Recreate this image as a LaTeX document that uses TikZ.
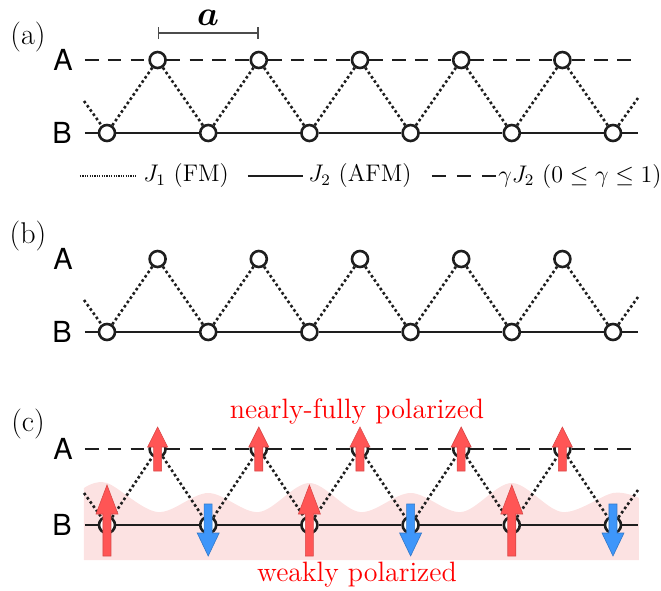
\documentclass[tikz,border=0pt]{standalone}
\usepackage{amsmath,amssymb,bm}
\usepackage{fontspec}
\newfontfamily\labelsans{TeX Gyre Heros}
\usetikzlibrary{arrows.meta,calc}
\definecolor{spinred}{RGB}{255,85,85}
\definecolor{spinblue}{RGB}{62,150,250}
\definecolor{bandpink}{RGB}{252,226,226}
\definecolor{bondgray}{RGB}{30,30,30}

\begin{document}
\begin{tikzpicture}[x=0.5pt, y=-0.5pt, font=\fontsize{12}{14}\selectfont,
    site/.style={circle, draw=bondgray, line width=1.3pt, fill=white, minimum size=8pt, inner sep=0pt},
    Jone/.style={bondgray, line width=1.3pt, dash pattern=on 1.3pt off 1.3pt},
    Jtwo/.style={bondgray, line width=1.35pt},
    Jgam/.style={bondgray, line width=1.4pt, dash pattern=on 6.8pt off 4.6pt},
    sublat/.style={font=\labelsans\fontsize{14.5}{16}\selectfont},
    panel/.style={font=\fontsize{15}{18}\selectfont},
    legend/.style={anchor=west, inner sep=0pt},
    redtxt/.style={red, anchor=base, font=\fontsize{14}{16}\selectfont},
    upA/.pic={\filldraw[fill=spinred, draw=spinred!85!black, line width=0.3pt]
      (-4,22) -- (-4,-2) -- (-10,-2) -- (0,-22) -- (10,-2) -- (4,-2) -- (4,22) -- cycle;},
    upB/.pic={\filldraw[fill=spinred, draw=spinred!85!black, line width=0.3pt]
      (-4,31) -- (-4,-11) -- (-11,-11) -- (0,-40) -- (11,-11) -- (4,-11) -- (4,31) -- cycle;},
    downB/.pic={\filldraw[fill=spinblue, draw=spinblue!80!black, line width=0.3pt]
      (-4,-21) -- (-4,8) -- (-11,8) -- (0,31) -- (11,8) -- (4,8) -- (4,-21) -- cycle;}]
  \useasboundingbox (0,0) rectangle (661,591);
  % weakly polarized background of panel (c)
  \fill[bandpink] plot[smooth, tension=0.55] coordinates {(84,488) (107,483) (157.6,512) (208.2,493)
    (258.8,512) (309.4,483) (360,512) (410.6,493) (461.2,512) (511.8,483) (562.4,512) (613,493) (639,498)}
    -- (639,560) -- (84,560) -- cycle;
  % three chains
  \foreach \p/\ya/\yb in {a/60/133, b/259/332, c/449/525} {
    \foreach \i in {0,...,5} \node[site] (\p B\i) at ({107+101.2*\i},\yb) {};
    \foreach \i in {0,...,4} \node[site] (\p A\i) at ({157.6+101.2*\i},\ya) {};
    \node[sublat] (\p lA) at (63,\ya) {A};
    \node[sublat] (\p lB) at (62,\yb) {B};
    \coordinate (\p L) at (84,\yb-32);
    \coordinate (\p R) at (638,\yb-35);
    \coordinate (\p BL) at (85,\yb);
    \coordinate (\p BR) at (638,\yb);
    \coordinate (\p AL) at (85,\ya);
    \coordinate (\p AR) at (636,\ya);
    \draw[Jtwo] (\p BL) -- (\p B0);
    \draw[Jtwo] (\p B5) -- (\p BR);
    \draw[Jone] (\p L) -- (\p B0);
    \draw[Jone] (\p B5) -- (\p R);
    \foreach \i [evaluate=\i as \j using int(\i+1)] in {0,...,4} {
      \draw[Jtwo] (\p B\i) -- (\p B\j);
      \draw[Jone] (\p B\i) -- (\p A\i) -- (\p B\j);
    }
  }
  \foreach \p in {a,c} {
    \draw[Jgam] (\p AL) -- (\p A0);
    \foreach \i [evaluate=\i as \j using int(\i+1)] in {0,...,3} \draw[Jgam] (\p A\i) -- (\p A\j);
    \draw[Jgam] (\p A4) -- (\p AR);
  }
  \node[panel] (pa) at (28,37) {(a)};
  \node[panel] (pb) at (28,236) {(b)};
  \node[panel] (pc) at (28,424) {(c)};
  % lattice constant
  \coordinate (barL) at (157.6,33);
  \coordinate (barR) at (258.8,33);
  \draw[{Bar[width=6pt]}-{Bar[width=6pt]}, gray!60!black, line width=0.8pt] (barL) -- (barR);
  \node[inner sep=0pt, font=\fontsize{16}{18}\selectfont] (alat) at (208,18) {$\bm{a}$};
  % legend
  \coordinate (lg1a) at (80,176);
  \coordinate (lg1b) at (137,176);
  \coordinate (lg2a) at (248,176);
  \coordinate (lg2b) at (303,176);
  \coordinate (lg3a) at (432,176);
  \coordinate (lg3b) at (496,176);
  \draw[bondgray, line width=0.9pt, dash pattern=on 0.6pt off 0.6pt] (lg1a) -- (lg1b);
  \draw[bondgray, line width=1.1pt] (lg2a) -- (lg2b);
  \draw[bondgray, line width=1.2pt, dash pattern=on 7pt off 5.5pt] (lg3a) -- (lg3b);
  \node[legend] (lgJ1) at (143,176) {$J_1$ (FM)};
  \node[legend] (lgJ2) at (308,176) {$J_2$ (AFM)};
  \node[legend] (lgJg) at (498,176) {$\gamma J_2$ $(0\leq\gamma\leq1)$};
  % spins in panel (c)
  \foreach \i in {0,...,4} \pic at (cA\i) {upA};
  \foreach \i in {0,2,4} \pic at (cB\i) {upB};
  \foreach \i in {1,3,5} \pic at (cB\i) {downB};
  \node[redtxt] (nfp) at (357,418) {nearly-fully polarized};
  \node[redtxt] (wkp) at (357,581) {weakly polarized};
\end{tikzpicture}
\end{document}
